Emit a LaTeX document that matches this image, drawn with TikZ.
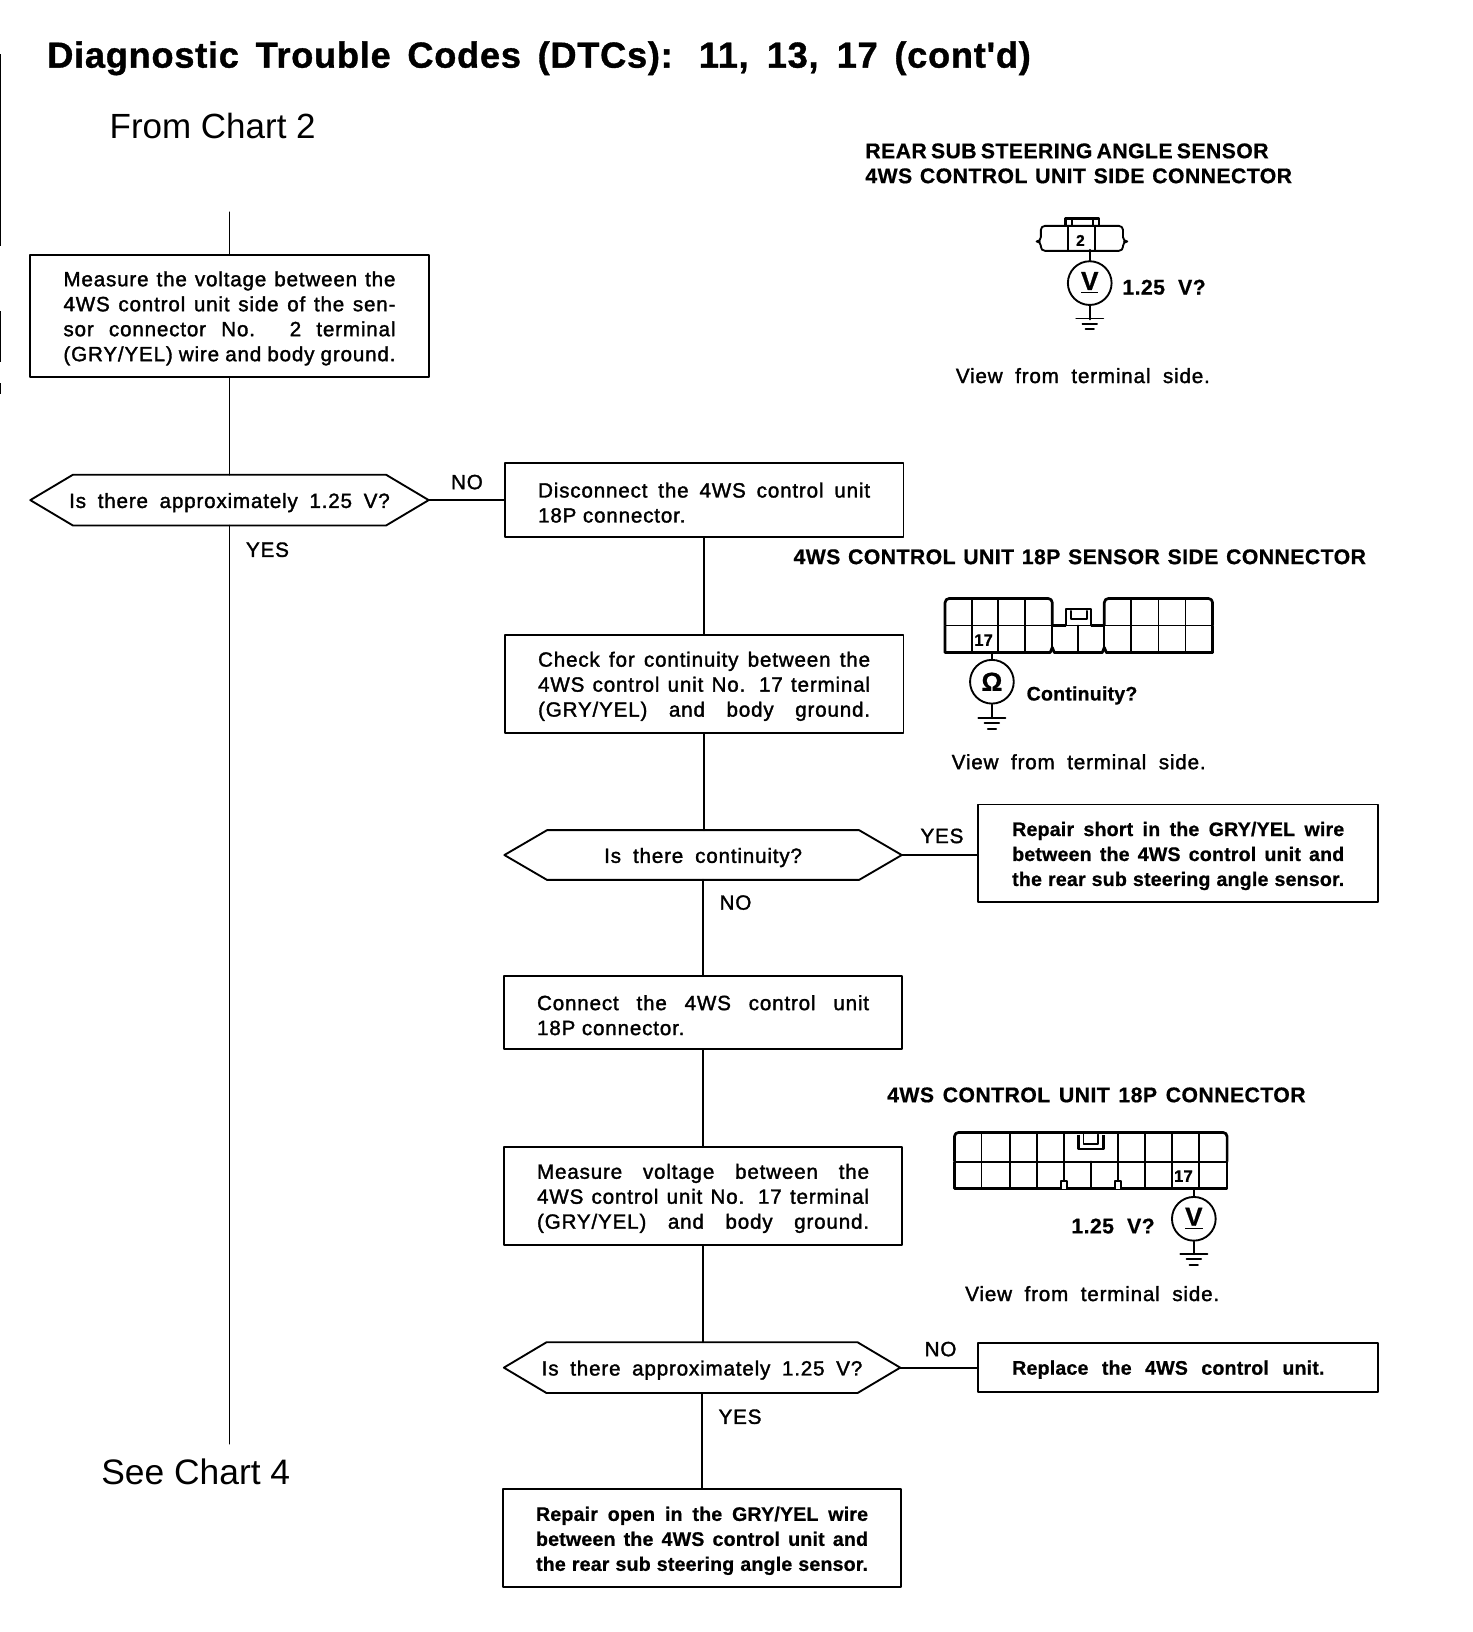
\documentclass[tikz,border=0pt]{standalone}
\usepackage{fontspec}
\setmainfont{Liberation Sans}
\newfontfamily\medf[LetterSpace=4,FakeBold=1.6]{Liberation Sans}
\newfontfamily\bldf[LetterSpace=1,FakeBold=0.8]{Liberation Sans Bold}
\newfontfamily\ttlf[LetterSpace=2,FakeBold=1.0]{Liberation Sans Bold}
\newfontfamily\capf[LetterSpace=2,FakeBold=0.6]{Liberation Sans Bold}
\newdimen\ux \ux=0.5pt
\newcommand\mt{\medf\fontsize{9.9}{12}\selectfont}
\newcommand\bt{\bldf\fontsize{9.4}{12}\selectfont}
\newcommand\ct{\capf\fontsize{10.2}{12}\selectfont}
\newcommand\jl[1]{\makebox[159.5pt][s]{#1}}
\newcommand\lowered[1]{\raisebox{-1.2pt}[\height][\depth]{#1}}
\tikzset{
  ln/.style={line width=0.9pt,line cap=round,line join=round},
  thn/.style={line width=0.7pt,line join=round},
  thk/.style={line width=1.3pt,line join=round},
  fbox/.style={draw,ln,inner sep=0pt,font=\mt},
  fboxb/.style={draw,ln,inner sep=0pt,font=\bt},
  hexa/.style={inner sep=0pt,font=\mt},
  lbl/.style={inner sep=0pt,anchor=base west},
  meter/.style={circle,draw,ln,minimum size=21pt,inner sep=0pt,font=\bldf\fontsize{12.5}{12}\selectfont},
}
% box: name, x1, y1, x2, y2, style, text
\newcommand\fb[7]{\node[#6,minimum width=\fpeval{#4-#2}*\ux,minimum height=\fpeval{#5-#3}*\ux] (#1) at ({(#2+#4)/2},{(#3+#5)/2}) {\lowered{\parbox{159.5pt}{\raggedright #7}}};}
% hexagon: name, cx, cy, hw, hh, text
\newcommand\hx[6]{\node[hexa,minimum width=\fpeval{2*#4}*\ux,minimum height=\fpeval{2*#5}*\ux] (#1) at (#2,#3) {\lowered{#6}};
  \draw[ln] (#1.west) -- ([xshift=41*\ux]#1.north west) -- ([xshift=-41*\ux]#1.north east) -- (#1.east) -- ([xshift=-41*\ux]#1.south east) -- ([xshift=41*\ux]#1.south west) -- cycle;}
% label: name, x, y, width, font, text
\newcommand\tl[6]{\node[lbl,font=#5] (#1) at (#2,#3) {\makebox[#4\ux][s]{#6}};}
\newcommand\gnd[2]{\draw[ln] (#1,#2) ++(-13,0) -- ++(26,0) ++(-20,5) -- ++(14,0) ++(-11,5) -- ++(8,0);}
\begin{document}
\begin{tikzpicture}[x=0.5pt,y=-0.5pt]
\useasboundingbox (0,0) rectangle (1414.3,1568);
\fill[white] (0,0) rectangle (1414.3,1568);
% scan marks at the left edge
\draw[thn] (0.5,52) -- (0.5,236);
\draw[thn] (0.5,299) -- (0.5,348);
\draw[thn] (0.5,368) -- (0.5,379);
% titles
\tl{title}{45}{65}{945}{\ttlf\fontsize{17.4}{18}\selectfont}{Diagnostic Trouble Codes (DTCs): 11, 13, 17 (cont'd)}
\node[lbl,font=\fontsize{16.8}{18}\selectfont] (from) at (105,133) {From Chart 2};
\node[lbl,font=\fontsize{17}{18}\selectfont] (see) at (97,1426) {See Chart 4};
% left column
\coordinate (start) at (220.5,204);
\coordinate (stop) at (220.5,1387);
\fb{m1}{29}{245}{412}{362}{fbox}{\jl{Measure the voltage between the}\\\jl{4WS control unit side of the sen-}\\\jl{sor connector No. 2 terminal}\\\jl{(GRY/YEL) wire and body ground.}}
\hx{d1}{220.5}{480.5}{191}{24}{\makebox[154pt][s]{Is there approximately 1.25 V?}}
\draw[ln] (start) -- (m1.north);
\draw[ln] (m1.south) -- (d1.north);
\draw[ln] (d1.south) -- (stop);
\tl{yes1}{236}{535}{39}{\mt}{YES}
\tl{no1}{433}{470}{31}{\mt}{NO}
% middle column
\fb{b2}{485}{445}{868}{516}{fbox}{\jl{Disconnect the 4WS control unit}\\18P connector.}
\draw[ln] (d1.east) -- (b2.west |- d1.east);
\fb{b3}{485}{610}{868}{704}{fbox}{\jl{Check for continuity between the}\\\jl{4WS control unit No. 17 terminal}\\\jl{(GRY/YEL) and body ground.}}
\hx{d2}{675.5}{821.5}{190.5}{23.5}{\makebox[95pt][s]{Is there continuity?}}
\fb{r1}{940}{773}{1324}{867}{fboxb}{\jl{Repair short in the GRY/YEL wire}\\\jl{between the 4WS control unit and}\\\jl{the rear sub steering angle sensor.}}
\fb{b4}{484}{938}{867}{1008}{fbox}{\jl{Connect the 4WS control unit}\\18P connector.}
\fb{b5}{484}{1102}{867}{1196}{fbox}{\jl{Measure voltage between the}\\\jl{4WS control unit No. 17 terminal}\\\jl{(GRY/YEL) and body ground.}}
\hx{d3}{674.5}{1314}{190}{24}{\makebox[154pt][s]{Is there approximately 1.25 V?}}
\fb{r2}{940}{1290}{1324}{1337}{fboxb}{\makebox[150pt][s]{Replace the 4WS control unit.}}
\fb{b6}{483}{1431}{866}{1525}{fboxb}{\jl{Repair open in the GRY/YEL wire}\\\jl{between the 4WS control unit and}\\\jl{the rear sub steering angle sensor.}}
\draw[ln] (b2.south) -- (b2.south |- b3.north);
\draw[ln] (b3.south) -- (b3.south |- d2.north);
\draw[ln] (d2.south) -- (d2.south |- b4.north);
\draw[ln] (b4.south) -- (b4.south |- b5.north);
\draw[ln] (b5.south) -- (b5.south |- d3.north);
\draw[ln] (d3.south) -- (d3.south |- b6.north);
\draw[ln] (d2.east) -- (r1.west |- d2.east);
\draw[ln] (d3.east) -- (r2.west |- d3.east);
\tl{yes2}{884}{810}{40}{\mt}{YES}
\tl{no2}{691}{874}{31}{\mt}{NO}
\tl{no3}{888}{1303}{31}{\mt}{NO}
\tl{yes3}{690}{1368}{40}{\mt}{YES}
% sensor connector
\tl{h1a}{831}{152}{387}{\ct}{REAR SUB STEERING ANGLE SENSOR}
\tl{h1b}{831}{176}{410}{\ct}{4WS CONTROL UNIT SIDE CONNECTOR}
\draw[ln,rounded corners=2] (1000,232) -- (1000,217) -- (1079,217) -- (1079,232) -- (1084,232) -- (1079,232) -- (1079,241) -- (1000,241) -- (1000,232) -- (995,232) -- cycle;
\draw[ln] (1026,217) -- (1026,241) (1052,217) -- (1052,241);
\draw[thk] (1024,217) -- (1024,210) -- (1056,210) -- (1056,217);
\draw[thn] (1030,210) -- (1030,217) (1050,210) -- (1050,217);
\node[inner sep=0pt,font=\bldf\fontsize{7.5}{8}\selectfont] (t2) at (1038,231) {2};
\node[meter] (vm1) at (1047,272) {\underline{V}};
\draw[ln] (vm1.north) -- ++(0,-10) coordinate (w1);
\draw[ln] (vm1.south) -- ++(0,13) coordinate (g1);
\gnd{1047}{306}
\tl{q1}{1078}{283}{80}{\ct}{1.25 V?}
\tl{v1}{918}{368}{244}{\mt}{View from terminal side.}
% 18P sensor side connector
\tl{h2}{762}{542}{550}{\ct}{4WS CONTROL UNIT 18P SENSOR SIDE CONNECTOR}
\draw[thk,rounded corners=2] (908,601) -- (908,575) -- (1011,575) -- (1011,601);
\draw[thk,rounded corners=2] (1061,601) -- (1061,575) -- (1165,575) -- (1165,601);
\draw[thk] (908,601) -- (908,627) -- (1009,627) -- (1011,622) -- (1013,627) -- (1059,627) -- (1061,622) -- (1063,627) -- (1165,627) -- (1165,601);
\draw[ln] (908,601) -- (1165,601);
\draw[thk] (1011,601) -- (1024,601) (1048,601) -- (1061,601);
\foreach \cx in {934,959,985,1036,1087,1113,1139} {\draw[ln] (\cx,601) -- (\cx,627);}
\foreach \cx in {934,959,985,1087,1113,1139} {\draw[ln] (\cx,575) -- (\cx,601);}
\draw[ln] (1011,601) -- (1011,622) (1061,601) -- (1061,622);
\draw[ln] (1024,601) -- (1024,585) -- (1048,585) -- (1048,601);
\draw[ln] (1029,587) -- (1029,595) -- (1044,595) -- (1044,587);
\node[inner sep=0pt,font=\bldf\fontsize{8}{8}\selectfont] (t17a) at (945,615) {17};
\node[meter] (om) at (953,655) {Ω};
\draw[ln] (om.north) -- (953,627);
\draw[ln] (om.south) -- (953,690);
\gnd{953}{690}
\tl{q2}{986}{673}{112}{\bt}{Continuity?}
\tl{v2}{914}{739}{244}{\mt}{View from terminal side.}
% 18P connector
\tl{h3}{852}{1059}{402}{\ct}{4WS CONTROL UNIT 18P CONNECTOR}
\draw[thk,rounded corners=2] (917,1116) -- (917,1088) -- (1179,1088) -- (1179,1116);
\draw[thk] (917,1116) -- (917,1142) -- (1179,1142) -- (1179,1116);
\draw[ln] (917,1116) -- (1179,1116);
\foreach \cx in {943,970,996,1022,1048,1074,1100,1126,1152} {\draw[ln] (\cx,1116) -- (\cx,1142);}
\foreach \cx in {943,970,996,1022,1074,1100,1126,1152} {\draw[ln] (\cx,1088) -- (\cx,1116);}
\draw[ln,fill=white] (1019,1142) -- (1019,1135) -- (1025,1135) -- (1025,1142);
\draw[ln,fill=white] (1071,1142) -- (1071,1135) -- (1077,1135) -- (1077,1142);
\draw[thk] (1036,1090) -- (1036,1104) -- (1060,1104) -- (1060,1090);
\draw[ln] (1041,1090) -- (1041,1099) -- (1055,1099) -- (1055,1090);
\node[inner sep=0pt,font=\bldf\fontsize{8}{8}\selectfont] (t17b) at (1137,1130) {17};
\node[meter] (vm2) at (1147,1171) {\underline{V}};
\draw[ln] (vm2.north) -- (1147,1142);
\draw[ln] (vm2.south) -- (1147,1205);
\gnd{1147}{1205}
\tl{q3}{1029}{1185}{80}{\ct}{1.25 V?}
\tl{v3}{927}{1250}{244}{\mt}{View from terminal side.}
\end{tikzpicture}
\end{document}
